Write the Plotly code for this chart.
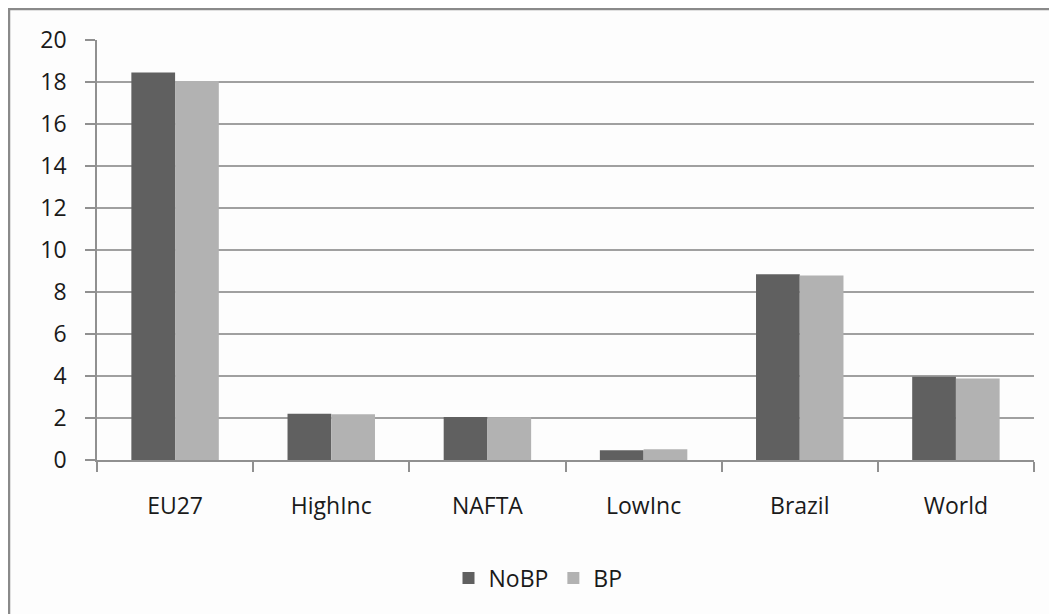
import plotly.graph_objects as go

categories = ["EU27", "HighInc", "NAFTA", "LowInc", "Brazil", "World"]
nobp = [18.45, 2.2, 2.05, 0.46, 8.85, 3.96]
bp = [18.05, 2.18, 2.03, 0.51, 8.78, 3.88]
y_ticks = [0, 2, 4, 6, 8, 10, 12, 14, 16, 18, 20]

W, H = 1057, 614
OFF = 8  # page body margin
L, R, T, B = 97 - OFF, 1034 - OFF, 40 - OFF, 460 - OFF
font = "'Open Sans', Lato, sans-serif"
FS = 23

fig = go.Figure()
fig.add_trace(go.Bar(name="NoBP", x=categories, y=nobp,
                     marker=dict(color="#606060", line=dict(width=0))))
fig.add_trace(go.Bar(name="BP", x=categories, y=bp,
                     marker=dict(color="#b2b2b2", line=dict(width=0))))

pw, ph = R - L, B - T
fig.update_layout(
    width=W, height=H,
    margin=dict(l=L, r=W - R, t=T, b=H - B, pad=0),
    paper_bgcolor="#fdfdfd", plot_bgcolor="#fdfdfd",
    barmode="group", bargap=0.44, bargroupgap=0,
    font=dict(family=font, size=FS, color="#1a1a1a"),
    showlegend=True,
    legend=dict(orientation="h", x=(538 - OFF - L) / pw, xanchor="center",
                y=(B - (578 - OFF)) / ph, yanchor="middle", font=dict(size=FS),
                itemwidth=30, traceorder="normal", bgcolor="rgba(0,0,0,0)"),
    xaxis=dict(type="category", tickson="boundaries", ticks="outside", ticklen=10,
               tickcolor="#909090", tickwidth=1.5, showline=True, linecolor="#909090",
               linewidth=1.5, showgrid=False, tickfont=dict(size=FS, color="#1a1a1a"),
               ticklabelstandoff=25),
    yaxis=dict(range=[0, 20], tickvals=y_ticks, ticks="outside", ticklen=10,
               tickcolor="#909090", tickwidth=1.5, showline=True, linecolor="#909090",
               linewidth=1.5, showgrid=True, gridcolor="#a0a0a0", gridwidth=1.5,
               zeroline=False, tickfont=dict(size=FS, color="#1a1a1a"), ticklabelstandoff=14),
    shapes=[dict(type="rect", xref="paper", yref="paper",
                 x0=(1 - L) / pw, x1=(W + 20 - L) / pw,
                 y0=(B - (H + 20)) / ph, y1=(B - 1) / ph,
                 line=dict(color="#8a8a8a", width=2.5), fillcolor="rgba(0,0,0,0)", layer="below")],
)
fig.write_html("out.html")
